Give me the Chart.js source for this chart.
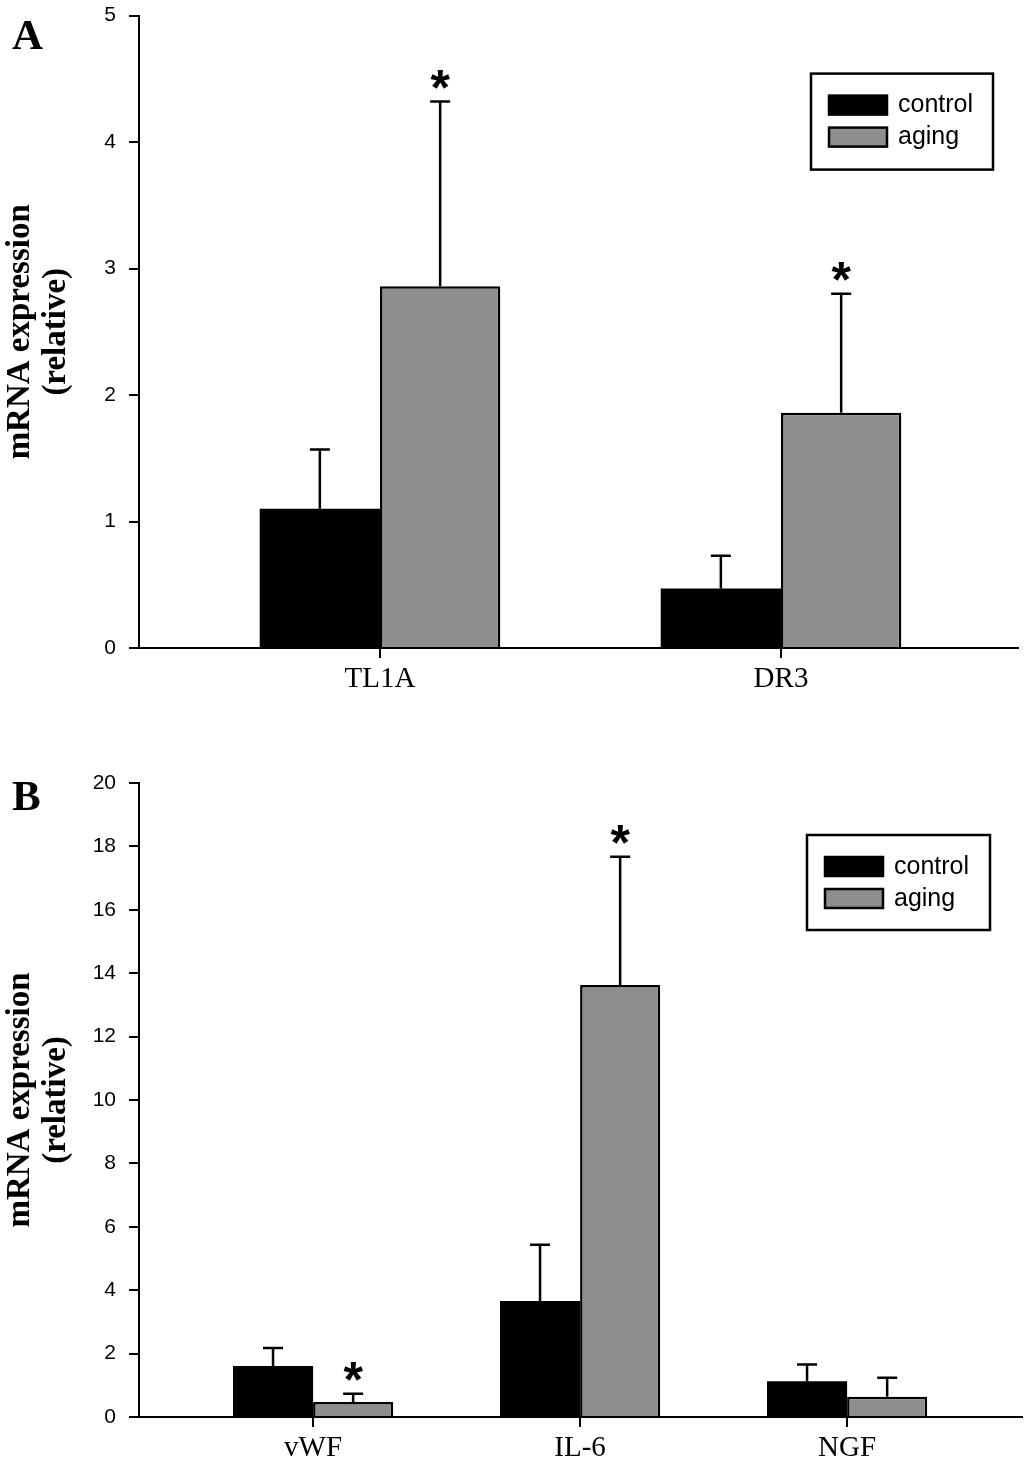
<!DOCTYPE html>
<html><head><meta charset="utf-8">
<script src="https://cdn.jsdelivr.net/npm/chart.js@4.4.1/dist/chart.umd.min.js"></script>
<style>
html,body{margin:0;padding:0;background:#fff;width:1025px;height:1465px;overflow:hidden;position:relative;}
.wrap{position:absolute;left:0;width:1025px;}
.panel{position:absolute;left:12px;font-family:'Liberation Serif','Times New Roman',serif;font-weight:bold;font-size:43px;line-height:1;color:#000;}
</style></head><body>
<div class="wrap" style="top:-10px;height:710px"><canvas id="cA" width="1025" height="710"></canvas></div>
<div class="wrap" style="top:730px;height:735px"><canvas id="cB" width="1025" height="735"></canvas></div>
<div class="panel" style="top:13px">A</div>
<div class="panel" style="top:774px">B</div>
<script>
// ---- data ----
const seriesLabels = ['control', 'aging'];

const catsA = ['TL1A', 'DR3'];
const controlA = [1.10, 0.47];
const controlErrA = [0.47, 0.26];
const agingA = [2.86, 1.86];
const agingErrA = [1.46, 0.94];
const sigA = [true, true];
const yTicksA = [0, 1, 2, 3, 4, 5];

const catsB = ['vWF', 'IL-6', 'NGF'];
const controlB = [1.61, 3.66, 1.13];
const controlErrB = [0.57, 1.77, 0.53];
const agingB = [0.47, 13.63, 0.64];
const agingErrB = [0.26, 4.04, 0.60];
const sigB = [true, true, false];
const yTicksB = [0, 2, 4, 6, 8, 10, 12, 14, 16, 18, 20];

const yTitle = ['mRNA expression', '(relative)'];

// ---- plugins ----
const errorBars = {
  id: 'errorBars',
  afterDatasetsDraw(chart) {
    const ctx = chart.ctx, ys = chart.scales.y;
    chart.data.datasets.forEach((ds, di) => {
      const meta = chart.getDatasetMeta(di);
      meta.data.forEach((bar, i) => {
        const v = ds.data[i].y, e = ds.errors[i];
        const yTop = ys.getPixelForValue(v + e);
        ctx.save();
        ctx.strokeStyle = '#000';
        ctx.lineWidth = 2.5;
        ctx.beginPath();
        ctx.moveTo(bar.x, bar.y);
        ctx.lineTo(bar.x, yTop);
        ctx.moveTo(bar.x - 10, yTop);
        ctx.lineTo(bar.x + 10, yTop);
        ctx.stroke();
        if (ds.sig && ds.sig[i]) {
          ctx.fillStyle = '#000';
          ctx.font = 'bold 50px "Liberation Sans", Arial, sans-serif';
          ctx.textAlign = 'center';
          ctx.textBaseline = 'alphabetic';
          const m = ctx.measureText('*');
          const off = (m.actualBoundingBoxAscent - m.actualBoundingBoxDescent) / 2;
          ctx.fillText('*', bar.x, yTop - 22 + off);
        }
        ctx.restore();
      });
    });
  }
};

const legendBox = {
  id: 'legendBox',
  afterDraw(chart, args, o) {
    const ctx = chart.ctx, a = chart.chartArea;
    const x = a.right - o.right - o.w, y = a.top + o.top;
    ctx.save();
    ctx.lineWidth = 2.5;
    ctx.strokeStyle = '#000';
    ctx.strokeRect(x, y, o.w, o.h);
    chart.data.datasets.forEach((ds, i) => {
      const sy = y + 22 + i * 32;
      ctx.fillStyle = ds.backgroundColor;
      ctx.fillRect(x + 18, sy, 58, 19);
      ctx.lineWidth = 2.5;
      ctx.strokeRect(x + 18, sy, 58, 19);
      ctx.fillStyle = '#000';
      ctx.font = '25px "Liberation Sans", Arial, sans-serif';
      ctx.textBaseline = 'middle';
      ctx.textAlign = 'left';
      ctx.fillText(ds.label, x + 87, sy + 10);
    });
    ctx.restore();
  }
};

function makeChart(id, cats, ctrl, ctrlErr, ag, agErr, sig, yTicks, cfg) {
  const ymax = yTicks[yTicks.length - 1];
  const step = yTicks[1] - yTicks[0];
  return new Chart(document.getElementById(id), {
    type: 'bar',
    data: {
      datasets: [
        {
          label: seriesLabels[0],
          data: cats.map((c, i) => ({ x: i + 1, y: ctrl[i] })),
          errors: ctrlErr,
          backgroundColor: '#000000',
          borderColor: '#000000',
          borderWidth: 0,
          categoryPercentage: 0.6,
          barPercentage: 1.0
        },
        {
          label: seriesLabels[1],
          data: cats.map((c, i) => ({ x: i + 1, y: ag[i] })),
          errors: agErr,
          sig: sig,
          backgroundColor: '#8e8e8e',
          borderColor: '#000000',
          borderWidth: 2.5,
          categoryPercentage: 0.6,
          barPercentage: 1.0
        }
      ]
    },
    options: {
      responsive: false,
      animation: false,
      layout: { padding: { top: cfg.top, right: cfg.right, left: 0, bottom: 0 } },
      plugins: {
        legend: { display: false },
        tooltip: { enabled: false },
        legendBox: cfg.legend
      },
      scales: {
        x: {
          type: 'linear',
          min: cfg.xmin, max: cfg.xmax,
          offset: false,
          afterBuildTicks: s => { s.ticks = cats.map((c, i) => ({ value: i + 1 })); },
          afterFit: s => { s.height = cfg.xh; },
          ticks: {
            callback: (v, i) => cats[i],
            font: { family: 'Liberation Serif', size: 29 },
            color: '#000', padding: 4, maxRotation: 0, autoSkip: false
          },
          grid: { offset: false, drawOnChartArea: false, drawTicks: true, tickLength: 10, color: '#000', lineWidth: 2 },
          border: { display: true, color: '#000', width: 2 }
        },
        y: {
          min: 0, max: ymax,
          afterFit: s => { s.width = 139; },
          ticks: {
            stepSize: step,
            font: { family: 'Liberation Sans', size: 21 },
            color: '#000', padding: 13
          },
          grid: { drawOnChartArea: false, drawTicks: true, tickLength: 10, color: '#000', lineWidth: 2 },
          border: { display: true, color: '#000', width: 2 },
          title: {
            display: true,
            text: yTitle,
            font: { family: 'Liberation Serif', size: 33, weight: 'bold', lineHeight: 1.1 },
            color: '#000',
            padding: { top: 2, bottom: 0 }
          }
        }
      }
    },
    plugins: [errorBars, legendBox]
  });
}

makeChart('cA', catsA, controlA, controlErrA, agingA, agingErrA, sigA, yTicksA, {
  top: 25, right: 7, xh: 52, xmin: 0.399, xmax: 2.591,
  legend: { w: 182, h: 96, right: 25, top: 58 }
});
makeChart('cB', catsB, controlB, controlErrB, agingB, agingErrB, sigB, yTicksB, {
  top: 53, right: 3, xh: 48, xmin: 0.348, xmax: 3.655,
  legend: { w: 183, h: 95, right: 32, top: 52 }
});
</script>
</body></html>
